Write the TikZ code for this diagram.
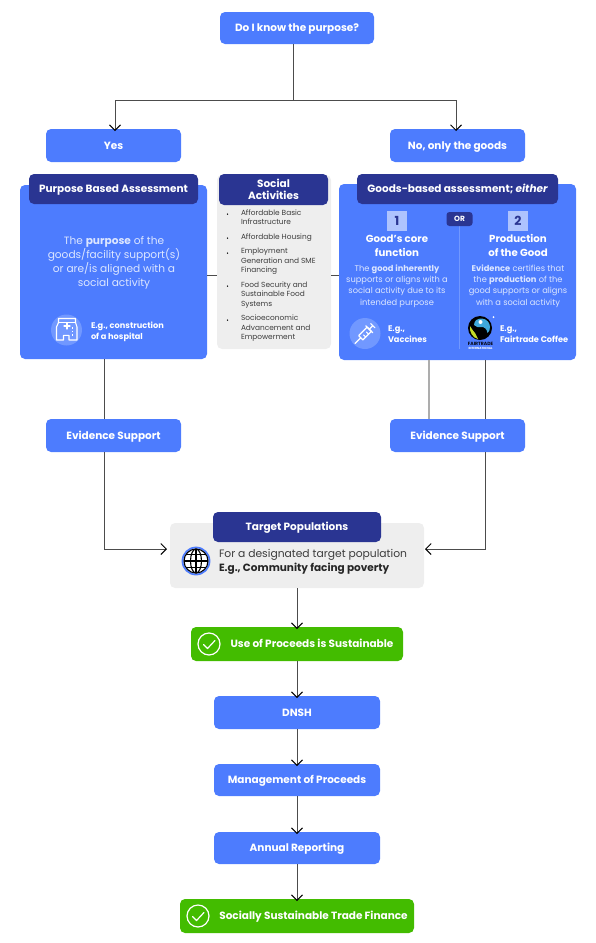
\documentclass[tikz,border=0pt]{standalone}
\usepackage{fontspec}
\setmainfont{Poppins}
\usetikzlibrary{arrows.meta,calc}
\definecolor{bluebox}{HTML}{4D7CFE}
\definecolor{navy}{HTML}{2A3592}
\definecolor{greenbox}{HTML}{43BC00}
\definecolor{panelgray}{HTML}{EEEEEE}
\definecolor{paletext}{HTML}{DCE6FF}
\definecolor{iconblue}{HTML}{7198FF}
\definecolor{linegray}{HTML}{8A8A8A}
\definecolor{bodytext}{HTML}{3C3C3C}
\definecolor{ftblue}{HTML}{3FA9DC}
\definecolor{ftgreen}{HTML}{C4DC28}
\newcommand{\fs}[2]{\fontsize{#1}{#2}\selectfont}
\newcommand{\bx}[7]{%
  \pgfmathsetmacro{\bxw}{#5-#3}\pgfmathsetmacro{\bxh}{#6-#4}%
  \pgfmathsetmacro{\bxx}{(#3+#5)/2}\pgfmathsetmacro{\bxy}{(#4+#6)/2}%
  \node[#2,text height=7.6pt,text depth=0pt,minimum width=\bxw pt,minimum height=\bxh pt] (#1) at (\bxx,\bxy) {#7};}
\tikzset{
  anybox/.style={rounded corners=5pt,inner sep=0pt,outer sep=0pt,font=\fs{10.5}{12}\bfseries},
  bluenode/.style={anybox,fill=bluebox,text=white},
  navynode/.style={anybox,fill=navy,text=white},
  greennode/.style={anybox,fill=greenbox,text=white},
  graypanel/.style={anybox,fill=panelgray},
  conn/.style={draw=black!70,line width=0.6pt},
  arrowconn/.style={conn,-{Straight Barb[length=5.5pt,width=11pt,line width=1pt,color=black]}},
  thickconn/.style={draw=linegray!70,line width=1.2pt},
  lbl/.style={inner sep=0pt,outer sep=0pt,align=center,anchor=center},
  leftlbl/.style={inner sep=0pt,outer sep=0pt,anchor=west,align=left},
  bodywhite/.style={lbl,text=paletext,font=\fs{8.3}{11.4}},
  egtext/.style={leftlbl,text=white,font=\fs{8.2}{11}\bfseries},
  listtext/.style={leftlbl,text=bodytext,font=\fs{7.4}{9.4}},
  listdot/.style={circle,fill=black,inner sep=0pt,minimum size=1.5pt},
  iconline/.style={draw=white,line width=1.1pt,line join=round,line cap=round},
}
\begin{document}
\begin{tikzpicture}[x=1pt,y=-1pt]
\useasboundingbox (0,0) rectangle (595,943);
% panels
\bx{purposepanel}{bluenode}{20}{185}{207}{359}{}
\bx{socialpanel}{graypanel}{217}{175}{331}{349}{}
\bx{goodspanel}{bluenode}{339}{184}{576}{360}{}
\bx{targetpanel}{graypanel}{170}{523}{424}{588}{}
% boxes
\bx{topq}{bluenode}{220}{12}{374}{44}{Do I know the purpose?}
\bx{yes}{bluenode}{46}{129}{181}{162}{Yes}
\bx{no}{bluenode}{390}{129}{525}{162}{No, only the goods}
\bx{purposehead}{navynode}{29}{174}{198}{204}{Purpose Based Assessment}
\node[navynode,minimum width=109pt,minimum height=31pt,align=center] (socialhead) at (273.5,189.5) {Social\\Activities};
\bx{goodshead}{navynode}{357}{174}{558}{204}{Goods-based assessment; \itshape either}
\bx{evleft}{bluenode}{46}{419}{181}{452}{Evidence Support}
\bx{evright}{bluenode}{390}{419}{525}{452}{Evidence Support}
\bx{targethead}{navynode}{213}{512}{381}{542}{Target Populations}
\bx{useproc}{greennode}{191}{627}{403}{661}{\hspace*{30pt}Use of Proceeds is Sustainable}
\bx{dnsh}{bluenode}{214}{696}{380}{729}{DNSH}
\bx{mgmt}{bluenode}{214}{764}{380}{796}{Management of Proceeds}
\bx{annual}{bluenode}{214}{832}{380}{864}{Annual Reporting}
\bx{socially}{greennode}{180}{899}{414}{933}{\hspace*{33pt}Socially Sustainable Trade Finance}
% connectors
\coordinate (branch) at (293,100);
\coordinate (lefttarget) at (167,549);
\coordinate (righttarget) at (425,549);
\draw[conn] ([xshift=-4pt]topq.south) -- (branch);
\draw[arrowconn] (branch) -| ([xshift=1.5pt,yshift=-2pt]yes.north);
\draw[arrowconn] (branch) -| ([xshift=-1.5pt,yshift=-2pt]no.north);
\draw[conn] ([xshift=-9pt]evleft.north |- purposepanel.south) -- ([xshift=-9pt]evleft.north);
\draw[arrowconn] ([xshift=-9pt]evleft.south) |- (lefttarget);
\draw[thickconn] ([xshift=-28.5pt]goodspanel.south) -- ([xshift=-28.5pt]goodspanel.south |- evright.north);
\draw[conn] ([xshift=28pt]goodspanel.south) -- ([xshift=28pt]goodspanel.south |- evright.north);
\draw[arrowconn] ([xshift=28pt]goodspanel.south |- evright.south) |- (righttarget);
\draw[conn] (purposepanel.east |- 0,275) -- (socialpanel.west |- 0,275);
\draw[conn] (socialpanel.east |- 0,275) -- (goodspanel.west |- 0,275);
\draw[arrowconn] (targetpanel.south) -- ([yshift=-2pt]useproc.north);
\draw[arrowconn] (useproc.south) -- ([yshift=-2pt]dnsh.north);
\draw[arrowconn] (dnsh.south) -- ([yshift=-2pt]mgmt.north);
\draw[arrowconn] (mgmt.south) -- ([yshift=-2pt]annual.north);
\draw[arrowconn] (annual.south) -- ([yshift=-2pt]socially.north);
% purpose panel text
\node[lbl,text=paletext,font=\fs{10.6}{14}] (purposetext) at (114,262.5) {The \textbf{purpose} of the\\goods/facility support(s)\\or are/is aligned with a\\social activity};
\node[egtext] (hospitallabel) at (91,331.5) {E.g., construction\\of a hospital};
% hospital icon
\fill[iconblue] (66.5,330) circle (15.5);
\draw[iconline] (58.5,322.5) -- (58.5,318.5) -- (75.5,318.5) -- (75.5,322.5) -- (77,327) -- (77,340) -- (69,340) -- (69,335.3) -- (63.5,335.3) -- (63.5,340) -- (56.5,340) -- (56.5,327) -- cycle;
\draw[iconline] (58.5,322.5) -- (75.5,322.5);
\draw[iconline] (64,326) -- (70,326) (67,323) -- (67,329);
\draw[draw=white,line width=1.2pt,dash pattern=on 1.5pt off 2pt] (72.5,327) -- (72.5,336);
% social list
\node[listtext] (s1) at (241,217.5) {Affordable Basic\\Infrastructure};
\node[listtext] (s2) at (241,237.5) {Affordable Housing};
\node[listtext] (s3) at (241,261.5) {Employment\\Generation and SME\\Financing};
\node[listtext] (s4) at (241,295) {Food Security and\\Sustainable Food\\Systems};
\node[listtext] (s5) at (241,328.5) {Socioeconomic\\Advancement and\\Empowerment};
\foreach \dy in {214,238,253,286,320} \node[listdot] at (227.5,\dy) {};
% goods panel content
\draw[draw=iconblue,line width=1pt] (459,226) -- (459,349);
\node[navynode,rounded corners=3pt,minimum width=26pt,minimum height=14pt,font=\fs{7.5}{9}\bfseries] (ornode) at (459.5,219) {OR};
\node[fill=white,fill opacity=0.55,text opacity=1,text=navy,minimum size=20pt,inner sep=0pt,font=\fs{12.5}{14}\bfseries] (numone) at (397,221) {1};
\node[fill=white,fill opacity=0.55,text opacity=1,text=navy,minimum size=20pt,inner sep=0pt,font=\fs{12.5}{14}\bfseries] (numtwo) at (518,221) {2};
\node[lbl,text=white,font=\fs{10.2}{14}\bfseries] (goodtitle) at (397,245.3) {Good's core\\function};
\node[lbl,text=white,font=\fs{10.2}{14}\bfseries] (prodtitle) at (518,245.3) {Production\\of the Good};
\node[bodywhite] (goodbody) at (397,286) {The \textbf{good inherently}\\supports or aligns with a\\social activity due to its\\intended purpose};
\node[bodywhite] (prodbody) at (518,286) {\textbf{Evidence} certifies that\\the \textbf{production} of the\\good supports or aligns\\with a social activity};
\node[egtext] (vaccinelabel) at (388,334) {E.g.,\\Vaccines};
\node[egtext] (coffeelabel) at (500,334) {E.g.,\\Fairtrade Coffee};
% syringe icon
\fill[iconblue] (365,333.5) circle (15.5);
\begin{scope}[shift={(365,333.5)},rotate=-135]
\draw[iconline] (-6,-3) rectangle (6,3);
\draw[iconline] (-2,-3) -- (-2,0) (2,-3) -- (2,0);
\draw[iconline] (-6,-5) -- (-6,5);
\draw[iconline] (-6,0) -- (-11,0) (-11,-3) -- (-11,3);
\draw[iconline] (6,0) -- (14,0);
\end{scope}
% fairtrade logo
\fill[black] (480,328) circle (12);
\fill[ftblue] (474,325) .. controls (474,320) and (478,318.5) .. (482,318.5) .. controls (487,319) and (490,323) .. (490,327) .. controls (490,330) and (489,332) .. (487.5,333) .. controls (487,329) and (484,326.5) .. (481,327) .. controls (479,327.5) and (476,327.5) .. (474,325) -- cycle;
\fill[ftgreen] (470,326) .. controls (472,329) and (473,331) .. (475,333) .. controls (476,335) and (477,337) .. (478,339) .. controls (473,338) and (469,332) .. (470,326) -- cycle;
\fill[white] (480.5,322) circle (2);
\fill[white] (493.5,317) circle (1);
\node[lbl,text=black!85!navy,font=\fs{4.6}{5}\bfseries] (ftname) at (480.5,344) {FAIRTRADE};
\node[lbl,text=white,font=\fs{3}{4}\bfseries] (ftintl) at (480.5,348.5) {INTERNATIONAL};
% target panel content
\node[leftlbl,text=bodytext,font=\fs{10.75}{12}] (targetline) at (219,555) {For a designated target population};
\node[leftlbl,text=black!85,font=\fs{10.5}{12}\bfseries] (targeteg) at (219,569) {E.g., Community facing poverty};
% globe
\fill[white] (196,561) circle (13.5);
\draw[draw=bluebox,line width=1.8pt] (196,561) circle (13.5);
\begin{scope}[line width=1.1pt,draw=black]
\draw (196,561) circle (12);
\draw (196,561) ellipse (5.5 and 12);
\draw (196,549) -- (196,573) (184,561) -- (208,561);
\draw (186,554.5) -- (206,554.5) (186,567.5) -- (206,567.5);
\end{scope}
% check marks
\draw[draw=white,line width=1.2pt] (209,644) circle (11);
\draw[draw=white,line width=1.2pt,line cap=round,line join=round] (203.5,644.5) -- (207.5,648.5) -- (215,640.5);
\draw[draw=white,line width=1.2pt] (198,916) circle (11);
\draw[draw=white,line width=1.2pt,line cap=round,line join=round] (192.5,916.5) -- (196.5,920.5) -- (204,912.5);
\end{tikzpicture}
\end{document}
